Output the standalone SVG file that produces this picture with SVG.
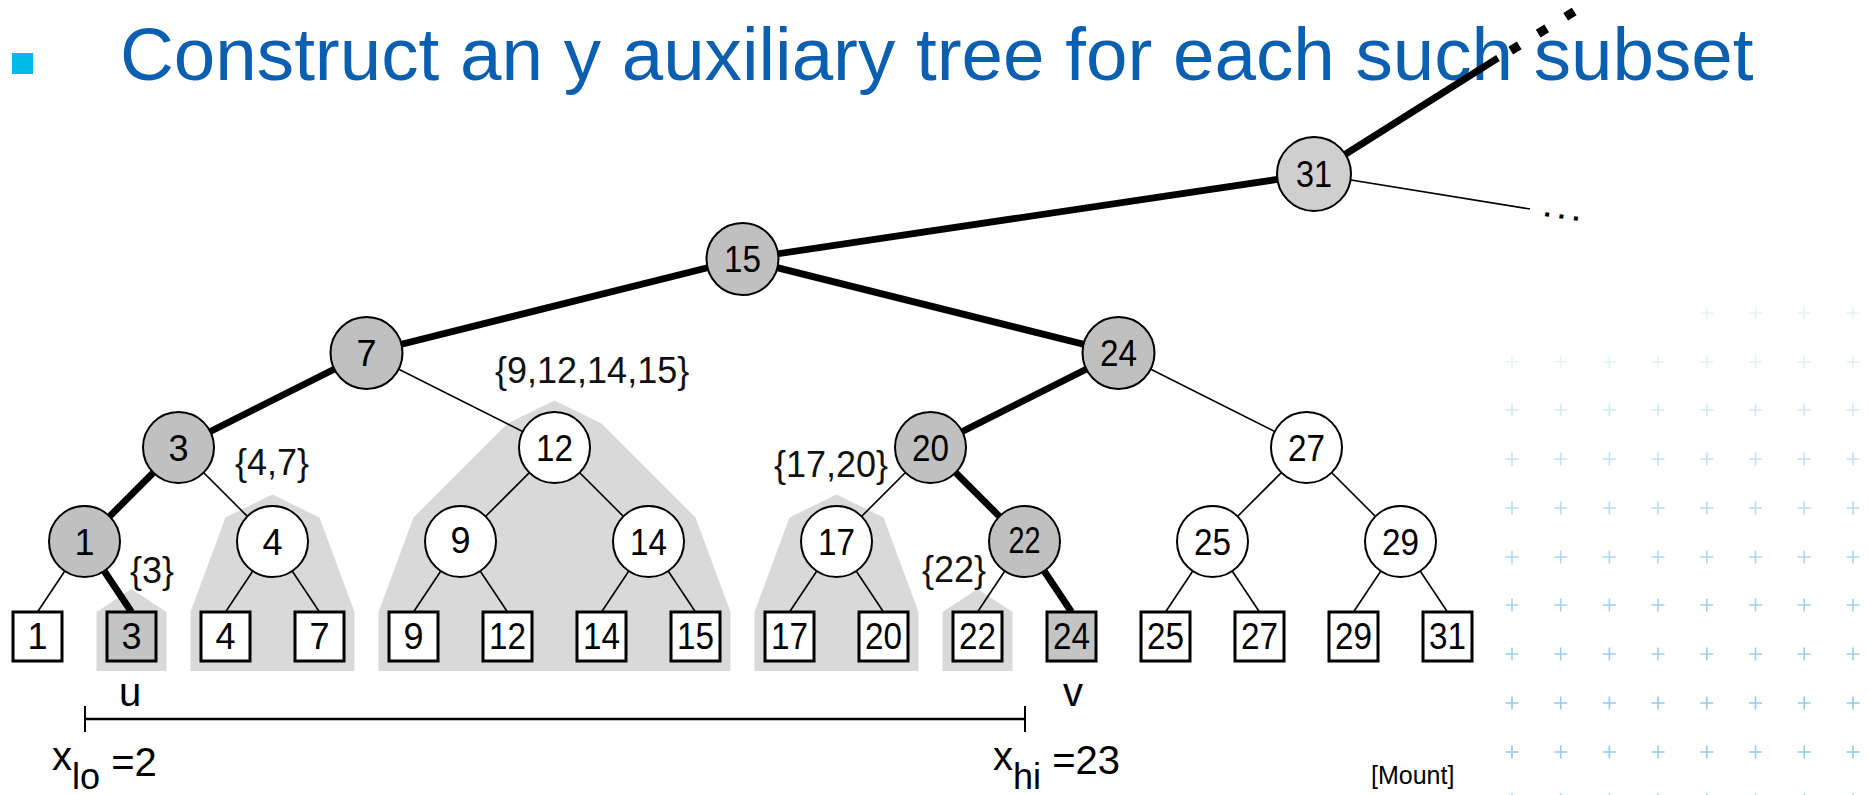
<svg xmlns="http://www.w3.org/2000/svg" width="1868" height="795" viewBox="0 0 1868 795">
<style>
text{font-family:"Liberation Sans",Arial,sans-serif;fill:#000}
.title{font-size:74.6px;fill:#0a5fb0}
.nl{font-size:36px;text-anchor:middle}
.set{font-size:36px;fill:#111}
.lab{font-size:40px}
.thin{stroke:#000;stroke-width:1.6;fill:none}
.thick{stroke:#000;stroke-width:6.8;fill:none}
.cw{fill:#fff;stroke:#000;stroke-width:2}
.cg{fill:#c0c0c0;stroke:#000;stroke-width:2}
.bw{fill:#fff;stroke:#000;stroke-width:3}
.bg{fill:#c4c4c4;stroke:#000;stroke-width:3}
.shade{fill:#d9d9d9}
.plus{stroke:#3f9fdc;stroke-width:1.6;fill:none}
</style>
<defs>
<path id="p" class="plus" d="M-6.5 0H6.5M0 -6.5V6.5"/>
<g id="row">
<use href="#p" x="1512"/><use href="#p" x="1560.7"/><use href="#p" x="1609.4"/><use href="#p" x="1658"/>
<use href="#p" x="1706.8"/><use href="#p" x="1755.5"/><use href="#p" x="1804.2"/><use href="#p" x="1853"/>
</g>
<g id="rowR">
<use href="#p" x="1706.8"/><use href="#p" x="1755.5"/><use href="#p" x="1804.2"/><use href="#p" x="1853"/>
</g>
</defs>
<rect width="1868" height="795" fill="#fff"/>
<g id="grid">
<use href="#rowR" y="313" opacity="0.12"/>
<use href="#row" y="362" opacity="0.14"/>
<use href="#row" y="410" opacity="0.22"/>
<use href="#row" y="459" opacity="0.3"/>
<use href="#row" y="508" opacity="0.36"/>
<use href="#row" y="557" opacity="0.42"/>
<use href="#row" y="605" opacity="0.48"/>
<use href="#row" y="654" opacity="0.5"/>
<use href="#row" y="703" opacity="0.55"/>
<use href="#row" y="752" opacity="0.55"/>
<use href="#row" y="800" opacity="0.55"/>
</g>
<g id="title">
<rect x="12" y="53" width="21" height="21" fill="#00bbe9"/>
<text class="title" x="120" y="80">Construct an y auxiliary tree for each such subset</text>
</g>
<g id="shading">
<polygon class="shade" points="96.5,671 96.5,612 131.5,589 166.5,612 166.5,671"/>
<polygon class="shade" points="190.5,671 190.5,612 225.5,517.5 272.5,494.5 319.5,517.5 354.5,612 354.5,671"/>
<polygon class="shade" points="378.5,671 378.5,612 413.5,517.5 507.5,423.5 554.5,400.5 601.5,423.5 695.5,517.5 730.5,612 730.5,671"/>
<polygon class="shade" points="754.5,671 754.5,612 789.5,517.5 836.5,494.5 883.5,517.5 918.5,612 918.5,671"/>
<polygon class="shade" points="942.5,671 942.5,612 977.5,589 1012.5,612 1012.5,671"/>
</g>
<g id="connectors">
<line class="thick" x1="1314" y1="174" x2="1498" y2="58"/>
<line x1="1510.7" y1="50.6" x2="1575" y2="11" stroke="#000" stroke-width="9" stroke-dasharray="10 22.3"/>
<line class="thin" x1="1314" y1="174" x2="1530" y2="209"/>
<line class="thick" x1="742.5" y1="259" x2="1314" y2="174"/>
<line class="thick" x1="742.5" y1="259" x2="366.5" y2="353"/>
<line class="thick" x1="742.5" y1="259" x2="1118.5" y2="353"/>
<line class="thick" x1="366.5" y1="353" x2="178.5" y2="447.5"/>
<line class="thin" x1="366.5" y1="353" x2="554.5" y2="447.5"/>
<line class="thick" x1="1118.5" y1="353" x2="930.5" y2="447.5"/>
<line class="thin" x1="1118.5" y1="353" x2="1306.5" y2="447.5"/>
<line class="thick" x1="178.5" y1="447.5" x2="84.5" y2="541.5"/>
<line class="thin" x1="178.5" y1="447.5" x2="272.5" y2="541.5"/>
<line class="thin" x1="554.5" y1="447.5" x2="460.5" y2="541.5"/>
<line class="thin" x1="554.5" y1="447.5" x2="648.5" y2="541.5"/>
<line class="thin" x1="930.5" y1="447.5" x2="836.5" y2="541.5"/>
<line class="thick" x1="930.5" y1="447.5" x2="1024.5" y2="541.5"/>
<line class="thin" x1="1306.5" y1="447.5" x2="1212.5" y2="541.5"/>
<line class="thin" x1="1306.5" y1="447.5" x2="1400.5" y2="541.5"/>
<line class="thin" x1="84.5" y1="541.5" x2="37.5" y2="612"/>
<line class="thick" x1="84.5" y1="541.5" x2="131.5" y2="612"/>
<line class="thin" x1="272.5" y1="541.5" x2="225.5" y2="612"/>
<line class="thin" x1="272.5" y1="541.5" x2="319.5" y2="612"/>
<line class="thin" x1="460.5" y1="541.5" x2="413.5" y2="612"/>
<line class="thin" x1="460.5" y1="541.5" x2="507.5" y2="612"/>
<line class="thin" x1="648.5" y1="541.5" x2="601.5" y2="612"/>
<line class="thin" x1="648.5" y1="541.5" x2="695.5" y2="612"/>
<line class="thin" x1="836.5" y1="541.5" x2="789.5" y2="612"/>
<line class="thin" x1="836.5" y1="541.5" x2="883.5" y2="612"/>
<line class="thin" x1="1024.5" y1="541.5" x2="977.5" y2="612"/>
<line class="thick" x1="1024.5" y1="541.5" x2="1071.5" y2="612"/>
<line class="thin" x1="1212.5" y1="541.5" x2="1165.5" y2="612"/>
<line class="thin" x1="1212.5" y1="541.5" x2="1259.5" y2="612"/>
<line class="thin" x1="1400.5" y1="541.5" x2="1353.5" y2="612"/>
<line class="thin" x1="1400.5" y1="541.5" x2="1447.5" y2="612"/>
</g>
<text x="1543" y="216" font-size="28" font-weight="bold" letter-spacing="6.7" transform="rotate(8 1543 216)">...</text>
<g id="n31"><circle cx="1314" cy="174" r="37" fill="#cfcfcf" stroke="#000" stroke-width="2"/><text class="nl" x="1314" y="187" textLength="36" lengthAdjust="spacingAndGlyphs">31</text></g>
<g id="n15"><circle class="cg" cx="742.5" cy="259" r="36"/><text class="nl" x="742.5" y="272" textLength="37" lengthAdjust="spacingAndGlyphs">15</text></g>
<g id="n7"><circle class="cg" cx="366.5" cy="353" r="36"/><text class="nl" x="366.5" y="366">7</text></g>
<g id="n24"><circle class="cg" cx="1118.5" cy="353" r="36"/><text class="nl" x="1118.5" y="366" textLength="37" lengthAdjust="spacingAndGlyphs">24</text></g>
<g id="n3"><circle class="cg" cx="178.5" cy="447.5" r="35.5"/><text class="nl" x="178.5" y="460.5">3</text></g>
<g id="n12"><circle class="cw" cx="554.5" cy="447.5" r="35.5"/><text class="nl" x="554.5" y="460.5" textLength="37" lengthAdjust="spacingAndGlyphs">12</text></g>
<g id="n20"><circle class="cg" cx="930.5" cy="447.5" r="35.5"/><text class="nl" x="930.5" y="460.5" textLength="37" lengthAdjust="spacingAndGlyphs">20</text></g>
<g id="n27"><circle class="cw" cx="1306.5" cy="447.5" r="35.5"/><text class="nl" x="1306.5" y="460.5" textLength="37" lengthAdjust="spacingAndGlyphs">27</text></g>
<g id="n1"><circle class="cg" cx="84.5" cy="541.5" r="35.5"/><text class="nl" x="84.5" y="554.5">1</text></g>
<g id="n4"><circle class="cw" cx="272.5" cy="541.5" r="35.5"/><text class="nl" x="272.5" y="554.5">4</text></g>
<g id="n9"><circle class="cw" cx="460.5" cy="541.5" r="35.5"/><text class="nl" x="460.5" y="552.5" font-size="30">9</text></g>
<g id="n14"><circle class="cw" cx="648.5" cy="541.5" r="35.5"/><text class="nl" x="648.5" y="554.5" textLength="37" lengthAdjust="spacingAndGlyphs">14</text></g>
<g id="n17"><circle class="cw" cx="836.5" cy="541.5" r="35.5"/><text class="nl" x="836.5" y="554.5" textLength="37" lengthAdjust="spacingAndGlyphs">17</text></g>
<g id="n22"><circle class="cg" cx="1024.5" cy="541.5" r="35.5"/><text class="nl" x="1024.5" y="552.5" font-size="31" textLength="32" lengthAdjust="spacingAndGlyphs">22</text></g>
<g id="n25"><circle class="cw" cx="1212.5" cy="541.5" r="35.5"/><text class="nl" x="1212.5" y="554.5" textLength="37" lengthAdjust="spacingAndGlyphs">25</text></g>
<g id="n29"><circle class="cw" cx="1400.5" cy="541.5" r="35.5"/><text class="nl" x="1400.5" y="554.5" textLength="37" lengthAdjust="spacingAndGlyphs">29</text></g>
<g id="leaves">
<g id="l1"><rect class="bw" x="13" y="612" width="49" height="49"/><text class="nl" x="37.5" y="649">1</text></g>
<g id="l3"><rect class="bg" x="107" y="612" width="49" height="49"/><text class="nl" x="131.5" y="649">3</text></g>
<g id="l4"><rect class="bw" x="201" y="612" width="49" height="49"/><text class="nl" x="225.5" y="649">4</text></g>
<g id="l7"><rect class="bw" x="295" y="612" width="49" height="49"/><text class="nl" x="319.5" y="649">7</text></g>
<g id="l9"><rect class="bw" x="389" y="612" width="49" height="49"/><text class="nl" x="413.5" y="649">9</text></g>
<g id="l12"><rect class="bw" x="483" y="612" width="49" height="49"/><text class="nl" x="507.5" y="649" textLength="37" lengthAdjust="spacingAndGlyphs">12</text></g>
<g id="l14"><rect class="bw" x="577" y="612" width="49" height="49"/><text class="nl" x="601.5" y="649" textLength="37" lengthAdjust="spacingAndGlyphs">14</text></g>
<g id="l15"><rect class="bw" x="671" y="612" width="49" height="49"/><text class="nl" x="695.5" y="649" textLength="37" lengthAdjust="spacingAndGlyphs">15</text></g>
<g id="l17"><rect class="bw" x="765" y="612" width="49" height="49"/><text class="nl" x="789.5" y="649" textLength="37" lengthAdjust="spacingAndGlyphs">17</text></g>
<g id="l20"><rect class="bw" x="859" y="612" width="49" height="49"/><text class="nl" x="883.5" y="649" textLength="37" lengthAdjust="spacingAndGlyphs">20</text></g>
<g id="l22"><rect class="bw" x="953" y="612" width="49" height="49"/><text class="nl" x="977.5" y="649" textLength="37" lengthAdjust="spacingAndGlyphs">22</text></g>
<g id="l24"><rect class="bg" x="1047" y="612" width="49" height="49"/><text class="nl" x="1071.5" y="649" textLength="37" lengthAdjust="spacingAndGlyphs">24</text></g>
<g id="l25"><rect class="bw" x="1141" y="612" width="49" height="49"/><text class="nl" x="1165.5" y="649" textLength="37" lengthAdjust="spacingAndGlyphs">25</text></g>
<g id="l27"><rect class="bw" x="1235" y="612" width="49" height="49"/><text class="nl" x="1259.5" y="649" textLength="37" lengthAdjust="spacingAndGlyphs">27</text></g>
<g id="l29"><rect class="bw" x="1329" y="612" width="49" height="49"/><text class="nl" x="1353.5" y="649" textLength="37" lengthAdjust="spacingAndGlyphs">29</text></g>
<g id="l31"><rect class="bw" x="1423" y="612" width="49" height="49"/><text class="nl" x="1447.5" y="649" textLength="37" lengthAdjust="spacingAndGlyphs">31</text></g>
</g>
<g id="sets">
<text class="set" x="130" y="583" font-size="30">{3}</text>
<text class="set" x="235" y="475">{4,7}</text>
<text class="set" x="495" y="383">{9,12,14,15}</text>
<text class="set" x="774" y="477">{17,20}</text>
<text class="set" x="922" y="582" font-size="34">{22}</text>
</g>
<g id="interval">
<line x1="85" y1="719" x2="1025" y2="719" stroke="#000" stroke-width="2.5"/>
<line x1="85" y1="706" x2="85" y2="732" stroke="#000" stroke-width="2"/>
<line x1="1025" y1="706" x2="1025" y2="732" stroke="#000" stroke-width="2"/>
<text class="lab" x="119" y="706">u</text>
<text class="lab" x="1063" y="706">v</text>
<text class="lab" x="52" y="770">x<tspan font-size="36" dy="19">lo</tspan><tspan dy="-13"> =2</tspan></text>
<text class="lab" x="993" y="770">x<tspan font-size="36" dy="19">hi</tspan><tspan dy="-15"> =23</tspan></text>
</g>
<text x="1371" y="784" font-size="25">[Mount]</text>
</svg>
